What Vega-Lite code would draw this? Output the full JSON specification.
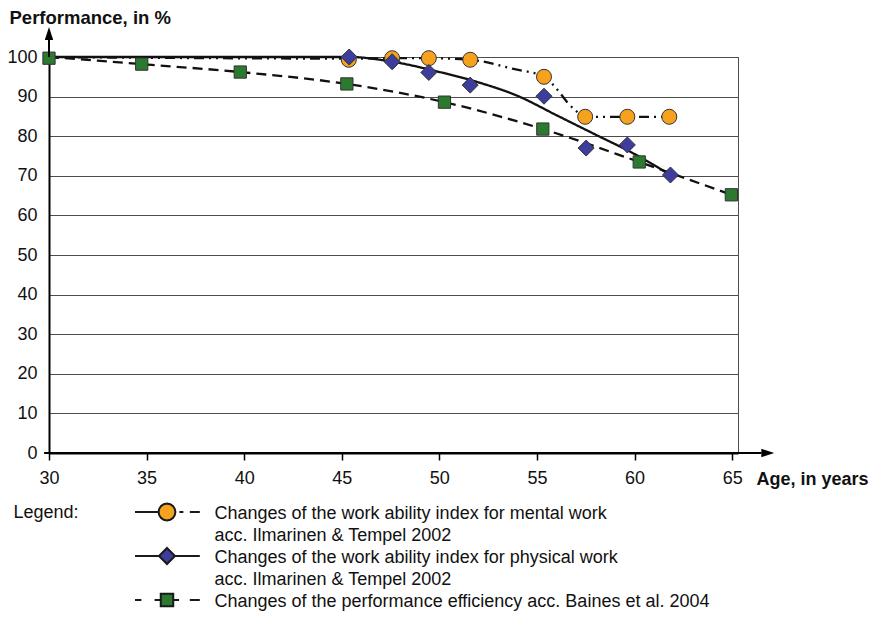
{
  "$schema": "https://vega.github.io/schema/vega-lite/v6.json",
  "padding": {"left": 6, "top": 7, "right": 4, "bottom": 4},
  "spacing": 1,
  "config": {
    "font": "Liberation Sans",
    "view": {"stroke": "#4d4d4d", "strokeWidth": 1},
    "axis": {
      "domainColor": "#000000", "domainWidth": 2,
      "labelFontSize": 18, "labelColor": "#111111",
      "titleFontWeight": "bold", "titleColor": "#111111", "titleAngle": 0,
      "titleAlign": "left", "titleBaseline": "alphabetic"
    },
    "axisX": {
      "tickCount": 7, "grid": false,
      "tickColor": "#000000", "tickWidth": 1.5, "tickSize": 7,
      "labelPadding": 9, "labelFlush": false,
      "titleFontSize": 18, "titleX": 707, "titleY": 31
    },
    "axisY": {
      "tickCount": 10, "grid": true, "gridColor": "#4d4d4d", "gridWidth": 1,
      "ticks": false, "labelPadding": 12,
      "titleFontSize": 18.5, "titleX": -40, "titleY": -34
    }
  },
  "datasets": {
    "markers": [
      {"series": "mental", "age": 45.36, "perf": 99.3},
      {"series": "mental", "age": 47.58, "perf": 99.7},
      {"series": "mental", "age": 49.46, "perf": 99.7},
      {"series": "mental", "age": 51.58, "perf": 99.3},
      {"series": "mental", "age": 55.36, "perf": 95.0},
      {"series": "mental", "age": 57.47, "perf": 84.9},
      {"series": "mental", "age": 59.63, "perf": 84.9},
      {"series": "mental", "age": 61.78, "perf": 84.9},
      {"series": "physical", "age": 45.38, "perf": 100.0},
      {"series": "physical", "age": 47.58, "perf": 98.8},
      {"series": "physical", "age": 49.46, "perf": 96.1},
      {"series": "physical", "age": 51.58, "perf": 92.9},
      {"series": "physical", "age": 55.36, "perf": 90.1},
      {"series": "physical", "age": 57.52, "perf": 77.0},
      {"series": "physical", "age": 59.63, "perf": 77.8},
      {"series": "physical", "age": 61.84, "perf": 70.2},
      {"series": "baines", "age": 30.0, "perf": 99.7},
      {"series": "baines", "age": 34.75, "perf": 98.2},
      {"series": "baines", "age": 39.8, "perf": 96.2},
      {"series": "baines", "age": 45.26, "perf": 93.2},
      {"series": "baines", "age": 50.26, "perf": 88.6},
      {"series": "baines", "age": 55.3, "perf": 81.8},
      {"series": "baines", "age": 60.24, "perf": 73.5},
      {"series": "baines", "age": 64.96, "perf": 65.2}
    ],
    "lines": [
      {"series": "mental", "age": 30.0, "perf": 100.0},
      {"series": "mental", "age": 45.36, "perf": 99.6},
      {"series": "mental", "age": 47.58, "perf": 99.7},
      {"series": "mental", "age": 49.46, "perf": 99.7},
      {"series": "mental", "age": 51.58, "perf": 99.3},
      {"series": "mental", "age": 53.8, "perf": 97.0},
      {"series": "mental", "age": 55.36, "perf": 95.0},
      {"series": "mental", "age": 56.2, "perf": 90.8},
      {"series": "mental", "age": 56.55, "perf": 88.6},
      {"series": "mental", "age": 57.0, "perf": 86.4},
      {"series": "mental", "age": 57.47, "perf": 84.9},
      {"series": "mental", "age": 59.63, "perf": 84.9},
      {"series": "mental", "age": 61.78, "perf": 84.9},
      {"series": "physical", "age": 30.0, "perf": 100.0},
      {"series": "physical", "age": 45.4, "perf": 100.0},
      {"series": "physical", "age": 47.6, "perf": 98.8},
      {"series": "physical", "age": 50.1, "perf": 96.1},
      {"series": "physical", "age": 52.0, "perf": 93.6},
      {"series": "physical", "age": 54.0, "perf": 90.2},
      {"series": "physical", "age": 56.0, "perf": 85.3},
      {"series": "physical", "age": 58.0, "perf": 80.4},
      {"series": "physical", "age": 60.0, "perf": 75.5},
      {"series": "physical", "age": 61.84, "perf": 70.2},
      {"series": "baines", "age": 30.0, "perf": 100.0},
      {"series": "baines", "age": 34.75, "perf": 98.2},
      {"series": "baines", "age": 39.8, "perf": 96.2},
      {"series": "baines", "age": 45.26, "perf": 93.2},
      {"series": "baines", "age": 50.26, "perf": 88.6},
      {"series": "baines", "age": 55.3, "perf": 81.8},
      {"series": "baines", "age": 60.24, "perf": 73.5},
      {"series": "baines", "age": 64.96, "perf": 65.2}
    ],
    "legendrows": [
      {"series": "mental", "entry": "Changes of the work ability index for mental work|acc. Ilmarinen & Tempel 2002"},
      {"series": "physical", "entry": "Changes of the work ability index for physical work|acc. Ilmarinen & Tempel 2002"},
      {"series": "baines", "entry": "Changes of the performance efficiency acc. Baines et al. 2004"}
    ],
    "one": [{"k": 1}]
  },
  "vconcat": [
    {
      "width": 689,
      "height": 396,
      "layer": [
        {
          "data": {"name": "lines"},
          "mark": {"type": "line", "interpolate": "monotone", "color": "#111111", "strokeWidth": 2.3},
          "encoding": {
            "x": {"field": "age", "type": "quantitative", "title": "Age, in years", "scale": {"domain": [30, 65.3], "nice": false, "zero": false}},
            "y": {"field": "perf", "type": "quantitative", "title": "Performance, in %", "scale": {"domain": [0, 100], "nice": false, "zero": false}},
            "detail": {"field": "series", "type": "nominal"},
            "strokeDash": {
              "field": "series", "type": "nominal",
              "scale": {"domain": ["mental", "physical", "baines"], "range": [[10, 5, 2, 5, 2, 5], [1, 0], [10, 6]]},
              "legend": null
            }
          }
        },
        {
          "data": {"name": "markers"},
          "transform": [{"filter": "datum.series == 'mental'"}],
          "mark": {"type": "point", "shape": "circle", "filled": true, "fill": "#f7a21e", "stroke": "#333333", "strokeWidth": 1, "size": 225, "opacity": 1},
          "encoding": {
            "x": {"field": "age", "type": "quantitative", "title": "Age, in years", "scale": {"domain": [30, 65.3], "nice": false, "zero": false}},
            "y": {"field": "perf", "type": "quantitative", "title": "Performance, in %", "scale": {"domain": [0, 100], "nice": false, "zero": false}}
          }
        },
        {
          "data": {"name": "markers"},
          "transform": [{"filter": "datum.series == 'physical'"}],
          "mark": {"type": "point", "shape": "diamond", "filled": true, "fill": "#3d3d9e", "stroke": "#333333", "strokeWidth": 1, "size": 256, "opacity": 1},
          "encoding": {
            "x": {"field": "age", "type": "quantitative", "title": "Age, in years", "scale": {"domain": [30, 65.3], "nice": false, "zero": false}},
            "y": {"field": "perf", "type": "quantitative", "title": "Performance, in %", "scale": {"domain": [0, 100], "nice": false, "zero": false}}
          }
        },
        {
          "data": {"name": "markers"},
          "transform": [{"filter": "datum.series == 'baines'"}],
          "mark": {"type": "point", "shape": "square", "filled": true, "fill": "#2b7a30", "stroke": "#333333", "strokeWidth": 1, "size": 150, "opacity": 1},
          "encoding": {
            "x": {"field": "age", "type": "quantitative", "title": "Age, in years", "scale": {"domain": [30, 65.3], "nice": false, "zero": false}},
            "y": {"field": "perf", "type": "quantitative", "title": "Performance, in %", "scale": {"domain": [0, 100], "nice": false, "zero": false}}
          }
        },
        {
          "data": {"name": "one"},
          "mark": {"type": "rule", "color": "#000000", "strokeWidth": 2},
          "encoding": {
            "x": {"datum": 30, "type": "quantitative", "title": "Age, in years", "scale": {"domain": [30, 65.3], "nice": false, "zero": false}},
            "y": {"datum": 100, "type": "quantitative", "title": "Performance, in %", "scale": {"domain": [0, 100], "nice": false, "zero": false}},
            "y2": {"datum": 104.5}
          }
        },
        {
          "data": {"name": "one"},
          "mark": {"type": "rule", "color": "#000000", "strokeWidth": 2},
          "encoding": {
            "x": {"datum": 29.75, "type": "quantitative", "title": "Age, in years", "scale": {"domain": [30, 65.3], "nice": false, "zero": false}},
            "x2": {"datum": 66.5},
            "y": {"datum": 0, "type": "quantitative", "title": "Performance, in %", "scale": {"domain": [0, 100], "nice": false, "zero": false}}
          }
        },
        {
          "data": {"name": "one"},
          "mark": {"type": "point", "shape": "M0,-1L0.6,0.85L-0.6,0.85Z", "filled": true, "color": "#000000", "size": 196, "opacity": 1},
          "encoding": {
            "x": {"datum": 30, "type": "quantitative", "title": "Age, in years", "scale": {"domain": [30, 65.3], "nice": false, "zero": false}},
            "y": {"datum": 105.8, "type": "quantitative", "title": "Performance, in %", "scale": {"domain": [0, 100], "nice": false, "zero": false}}
          }
        },
        {
          "data": {"name": "one"},
          "mark": {"type": "point", "shape": "M1,0L-0.85,-0.6L-0.85,0.6Z", "filled": true, "color": "#000000", "size": 196, "opacity": 1},
          "encoding": {
            "x": {"datum": 66.8, "type": "quantitative", "title": "Age, in years", "scale": {"domain": [30, 65.3], "nice": false, "zero": false}},
            "y": {"datum": 0, "type": "quantitative", "title": "Performance, in %", "scale": {"domain": [0, 100], "nice": false, "zero": false}}
          }
        }
      ]
    },
    {
      "width": 236,
      "height": 132,
      "view": {"stroke": null},
      "data": {"name": "legendrows"},
      "mark": {"type": "point", "filled": true, "size": 256, "stroke": "#1a1a1a", "strokeWidth": 2, "opacity": 1},
      "encoding": {
        "y": {
          "field": "entry", "type": "nominal", "sort": null,
          "scale": {"type": "point", "padding": 0.5},
          "axis": {
            "orient": "right", "title": "Legend:",
            "domain": false, "ticks": false, "grid": false,
            "labelAlign": "left", "labelBaseline": "top", "labelOffset": -8, "labelPadding": -71,
            "labelFontSize": 18, "labelLineHeight": 22.5, "labelLimit": 700, "labelColor": "#111111",
            "labelExpr": "split(datum.value, '|')",
            "titleAngle": 0, "titleX": -272, "titleY": 22, "titleAlign": "left", "titleBaseline": "middle",
            "titleFontWeight": "normal", "titleFontSize": 18, "titleColor": "#111111"
          }
        },
        "shape": {
          "field": "series", "type": "nominal",
          "scale": {
            "domain": ["mental", "physical", "baines"],
            "range": [
              "M-4,0L-1.05,0M1.55,0L2.05,0M2.85,0L4.1,0M1.05,0L0.97,0.402L0.742,0.742L0.402,0.97L0,1.05L-0.402,0.97L-0.742,0.742L-0.97,0.402L-1.05,0L-0.97,-0.402L-0.742,-0.742L-0.402,-0.97L0,-1.05L0.402,-0.97L0.742,-0.742L0.97,-0.402Z",
              "M-4,0L-1,0M1,0L4.1,0M0,-1L1,0L0,1L-1,0Z",
              "M-4,0L-3.2,0M-1.55,0L-0.8,0M0.8,0L1.5,0M2.85,0L4.1,0M-0.78,-0.78L0.78,-0.78L0.78,0.78L-0.78,0.78Z"
            ]
          },
          "legend": null
        },
        "fill": {
          "field": "series", "type": "nominal",
          "scale": {"domain": ["mental", "physical", "baines"], "range": ["#f7a21e", "#3d3d9e", "#2b7a30"]},
          "legend": null
        }
      }
    }
  ]
}
